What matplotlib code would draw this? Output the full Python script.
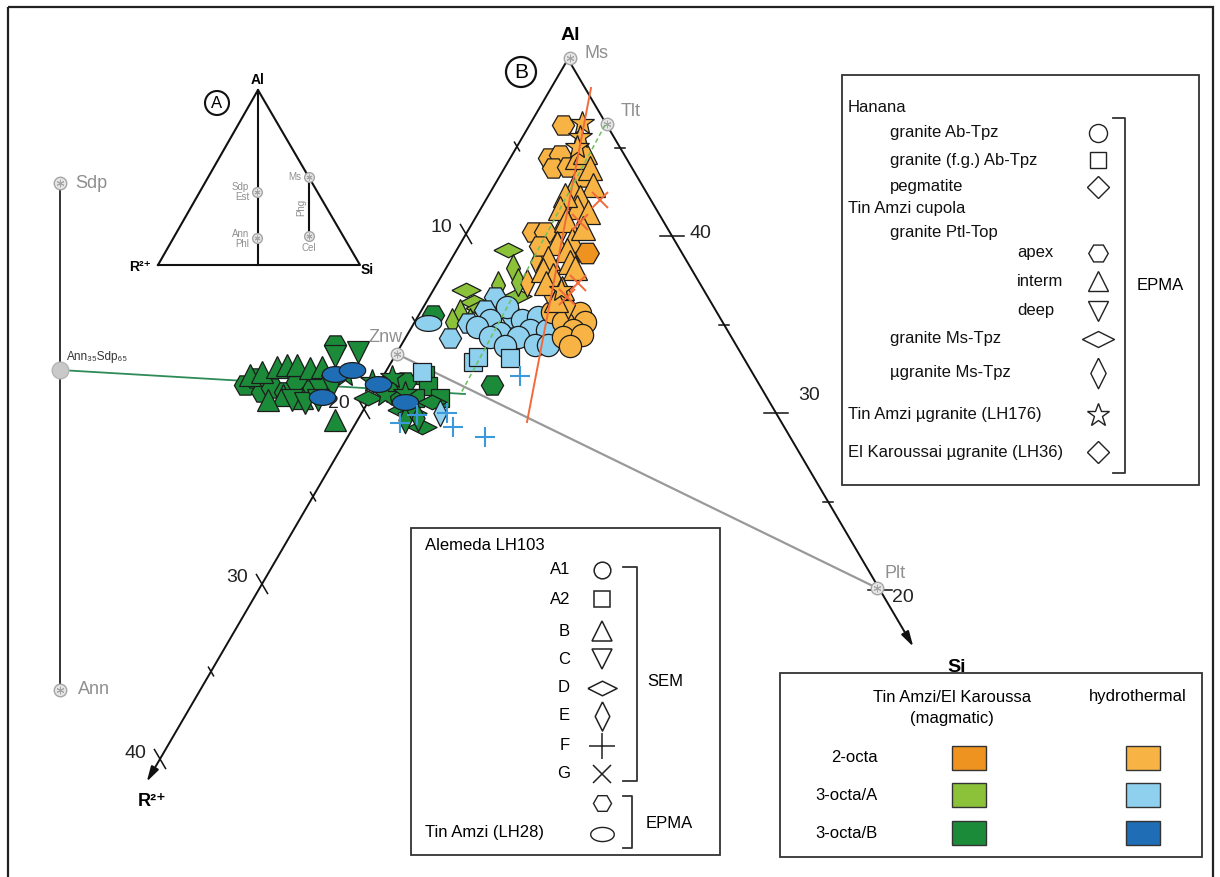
import numpy as np
import matplotlib.pyplot as plt
from matplotlib.patches import Rectangle, Circle

plt.rcParams['font.family'] = ['Liberation Sans', 'DejaVu Sans']

# mica compositions, plotted in diagram units (origin top-left of sheet)
# Tin Amzi / Hanana hydrothermal 2-octa (light orange)
lo_hex = [(563, 125), (549, 158), (560, 155), (553, 168), (568, 167), (583, 177),
          (533, 232), (545, 232), (540, 246)]
lo_star = [(582, 123), (580, 137), (577, 147), (561, 290)]
lo_tri = [(577, 157), (585, 152), (590, 168), (593, 185), (573, 188), (580, 197),
          (577, 207), (588, 212), (565, 195), (560, 208), (566, 220), (572, 240),
          (583, 228), (557, 243), (567, 250), (548, 258), (570, 262), (543, 270),
          (553, 275), (575, 268), (546, 283), (562, 288), (556, 300)]
lo_vdia = [(562, 227), (537, 262), (527, 283), (548, 290), (568, 305)]
lo_circ = [(552, 312), (580, 313), (585, 322), (563, 322), (573, 330), (563, 337),
           (582, 335), (570, 346)]
# magmatic 2-octa (orange)
mo_hex = [(587, 253)]
# Alemeda G analyses
g_cross = [(600, 200), (580, 222), (578, 283), (567, 297)]

# 3-octa/A magmatic (yellow green)
yg_hdia = [(508, 250), (466, 290), (474, 302), (517, 296), (480, 308)]
yg_vdia = [(513, 268), (518, 282), (460, 313), (452, 322), (470, 322), (498, 285)]

# 3-octa/A hydrothermal (light blue)
lb_hex = [(450, 338), (495, 297), (485, 310), (468, 323), (513, 318)]
lb_circ = [(507, 307), (490, 320), (522, 320), (538, 317), (477, 327), (500, 333),
           (530, 330), (547, 330), (490, 337), (518, 337), (505, 346), (535, 345),
           (548, 345)]
lb_ell = [(428, 323)]
lb_sq = [(473, 362), (478, 357), (510, 358), (422, 372)]
lb_plus = [(520, 376), (400, 423), (417, 415), (447, 413), (453, 427), (485, 437)]
lb_vdia = [(440, 413)]

# 3-octa/B magmatic (green)
dg_hex = [(433, 315), (492, 385), (245, 385), (255, 378), (262, 392), (272, 388),
          (285, 392), (297, 382), (312, 390), (320, 380), (335, 345), (392, 392),
          (405, 382)]
dg_tri = [(250, 375), (262, 372), (277, 367), (287, 365), (297, 365), (310, 368),
          (322, 367), (283, 395), (268, 400), (302, 398), (335, 420)]
dg_tri_dn = [(335, 356), (358, 352), (332, 386), (292, 400), (305, 403), (318, 400)]
dg_star = [(345, 375), (372, 381), (392, 377), (385, 395), (405, 393)]
dg_hdia = [(368, 398), (402, 410), (412, 413), (432, 402), (422, 427)]
dg_vdia = [(405, 420), (418, 418)]
dg_sq = [(425, 375), (428, 386), (415, 398), (440, 398)]
# 3-octa/B hydrothermal (blue)
db_ell = [(335, 374), (352, 370), (322, 397), (378, 384), (405, 402)]

# end members
em_names = ['Ms', 'Tlt', 'Znw', 'Plt']
em_xy = [(570, 58), (607, 124), (397, 354), (877, 588)]
left_ticks = [10, 20, 30, 40]
right_ticks = [40, 30, 20]

C_ORANGE = '#EE9320'
C_LORANGE = '#F7B445'
C_YGREEN = '#8CC23A'
C_LBLUE = '#8ED0EE'
C_GREEN = '#1B8B3A'
C_BLUE = '#1F6DB4'
EDGE = '#1c1c1c'
GREY = '#8f8f8f'

t = np.linspace(0, 2 * np.pi, 40)
ELLIPSE = list(zip(np.cos(t), 0.6 * np.sin(t)))
HDIA = [(-1, 0), (0, 0.5), (1, 0), (0, -0.5), (-1, 0)]
VDIA = [(0, 1), (0.5, 0), (0, -1), (-0.5, 0), (0, 1)]

fig = plt.figure(figsize=(12.2, 8.77), dpi=100)
ax = fig.add_axes([0, 0, 1, 1])
ax.set_xlim(0, 1220)
ax.set_ylim(877, 0)
ax.axis('off')


def pts(data, marker, ms, fc, z=3, ec=EDGE, mew=0.9):
    xs, ys = zip(*data)
    ax.plot(xs, ys, ls='none', marker=marker, ms=ms, mfc=fc, mec=ec, mew=mew, zorder=z)


def endmember(x, y, ms=9):
    ax.plot(x, y, marker='o', ms=ms, mfc='#e6e6e6', mec='#a5a5a5', mew=1, zorder=6)
    ax.plot(x, y, marker=(6, 2, 0), ms=ms * 0.6, mec='#a5a5a5', mew=0.7, zorder=7)


# frame
ax.add_patch(Rectangle((8, 7), 1205, 900, fill=False, lw=1.6, ec='#222'))

# ternary frame (Al apex, R2+ and Si axes)
apex = np.array([568.0, 59.0])
eL = np.array([-10.2, 17.5])
eR = np.array([10.4, 17.7])


def left_pt(v):
    return apex + v * eL


def right_pt(s):
    return apex + (50 - s) * eR


tipL = left_pt(41.3)
tipR = right_pt(16.8)
for tip in (tipL, tipR):
    ax.annotate('', xy=tip, xytext=apex,
                arrowprops=dict(arrowstyle='-|>,head_length=0.9,head_width=0.25',
                                lw=1.4, color='#111', shrinkA=0, shrinkB=0), zorder=1)

dR = eR / np.hypot(*eR)
for v in [5, 10, 15, 20, 25, 30, 35, 40]:
    p = left_pt(v)
    h = 11 if v % 10 == 0 else 5
    ax.plot([p[0] - h * dR[0], p[0] + h * dR[0]], [p[1] - h * dR[1], p[1] + h * dR[1]],
            color='#111', lw=1.1, zorder=1)
for s in [45, 40, 35, 30, 25, 20]:
    p = right_pt(s)
    h = 12 if s % 10 == 0 else 5
    ax.plot([p[0] - h, p[0] + h], [p[1], p[1]], color='#111', lw=1.1, zorder=1)

for v in left_ticks:
    p = left_pt(v)
    ax.text(p[0] - 14, p[1] - 6, str(v), fontsize=14, ha='right', va='center', color='#222')
for s in right_ticks:
    p = right_pt(s)
    dx, dy = {40: (18, -2), 30: (22, -17), 20: (12, 8)}[s]
    ax.text(p[0] + dx, p[1] + dy, str(s), fontsize=14, ha='left', va='center', color='#222')

ax.text(570, 35, 'Al', fontsize=14, fontweight='bold', ha='center', va='center')
ax.text(957, 667, 'Si', fontsize=14, fontweight='bold', ha='center', va='center')
ax.text(152, 802, 'R²⁺', fontsize=13, fontweight='bold', ha='center', va='center')
ax.add_patch(Circle((521, 72), 15, fill=False, lw=1.6, ec='#111'))
ax.text(521, 72, 'B', fontsize=15, ha='center', va='center')

# tie lines
ax.plot([60, 465], [370, 394], color='#2E8B57', lw=1.3, zorder=2)
ax.plot([em_xy[2][0], em_xy[3][0]], [em_xy[2][1], em_xy[3][1]], color='#999', lw=1.6, zorder=2)
ax.plot([591, 527], [88, 422], color='#F26A3A', lw=1.4, zorder=8)
ax.plot([605, 460], [125, 395], color='#6DBF5A', lw=1.1, ls=(0, (3, 2)), zorder=8)

# data clusters
pts(dg_hex, 'H', 16, C_GREEN)
pts(dg_tri, '^', 16, C_GREEN)
pts(dg_tri_dn, 'v', 16, C_GREEN)
pts(dg_sq, 's', 13, C_GREEN)
pts(dg_hdia, HDIA, 21, C_GREEN)
pts(dg_vdia, VDIA, 19, C_GREEN)
pts(dg_star, '*', 18, C_GREEN)
pts(db_ell, ELLIPSE, 19, C_BLUE, z=3.5)

pts(yg_hdia, HDIA, 21, C_YGREEN, z=3.6)
pts(yg_vdia, VDIA, 20, C_YGREEN, z=3.6)
pts(lb_hex, 'H', 16, C_LBLUE, z=3.7)
pts(lb_circ, 'o', 16, C_LBLUE, z=3.7)
pts(lb_ell, ELLIPSE, 19, C_LBLUE, z=3.7)
pts(lb_sq, 's', 13, C_LBLUE, z=3.7)
pts(lb_vdia, VDIA, 19, C_LBLUE, z=3.7)
pts(lb_plus, '+', 15, 'none', z=3.8, ec='#3A9ADC', mew=1.5)

pts(lo_circ, 'o', 16, C_LORANGE, z=4)
pts(lo_vdia, VDIA, 20, C_LORANGE, z=4)
pts(lo_hex, 'H', 16, C_LORANGE, z=4)
pts(lo_tri, '^', 17, C_LORANGE, z=4.1)
pts(lo_star, '*', 18, C_LORANGE, z=4.2)
pts(mo_hex, 'H', 17, C_ORANGE, z=4.2)
pts(g_cross, 'x', 12, 'none', z=8, ec='#F26A3A', mew=1.4)

# end members on the main diagram
for name, (x, y) in zip(em_names, em_xy):
    endmember(x, y)
ax.text(584, 53, 'Ms', fontsize=13, color=GREY, va='center')
ax.text(621, 112, 'Tlt', fontsize=13, color=GREY, va='center')
ax.text(385, 338, 'Znw', fontsize=13, color=GREY, ha='center', va='center')
ax.text(885, 574, 'Plt', fontsize=13, color=GREY, va='center')

# annite - siderophyllite join
ax.plot([60, 60], [183, 690], color='#333', lw=1.4, zorder=1)
endmember(60, 183)
endmember(60, 690)
ax.plot(60, 370, marker='o', ms=12, mfc='#c9c9c9', mec='#b5b5b5', zorder=6)
ax.text(75, 184, 'Sdp', fontsize=13, color=GREY, va='center')
ax.text(78, 690, 'Ann', fontsize=13, color=GREY, va='center')
ax.text(67, 357, 'Ann₃₅Sdp₆₅', fontsize=8.5, color='#333', va='center')

# inset A
ax.plot([158, 258, 360, 158], [265, 90, 265, 265], color='#111', lw=1.5)
ax.plot([258, 258], [90, 265], color='#111', lw=1.5)
ax.plot([309, 309], [177, 236], color='#111', lw=1.5)
for x, y in [(257, 192), (257, 238), (309, 177), (309, 236)]:
    endmember(x, y, ms=7)
ax.text(258, 80, 'Al', fontsize=10, fontweight='bold', ha='center', va='center')
ax.text(140, 267, 'R²⁺', fontsize=10, fontweight='bold', ha='center', va='center')
ax.text(367, 270, 'Si', fontsize=10, fontweight='bold', ha='center', va='center')
ax.add_patch(Circle((217, 103), 12, fill=False, lw=1.5, ec='#111'))
ax.text(217, 103, 'A', fontsize=12, ha='center', va='center')
ax.text(249, 192, 'Sdp\nEst', fontsize=7, color=GREY, ha='right', va='center', linespacing=0.9)
ax.text(249, 239, 'Ann\nPhl', fontsize=7, color=GREY, ha='right', va='center', linespacing=0.9)
ax.text(301, 177, 'Ms', fontsize=7, color=GREY, ha='right', va='center')
ax.text(309, 248, 'Cel', fontsize=7, color=GREY, ha='center', va='center')
ax.text(301, 207, 'Phg', fontsize=7, color=GREY, ha='center', va='center', rotation=90)

# legend: Hanana / Tin Amzi / El Karoussa
ax.add_patch(Rectangle((842, 75), 357, 410, fill=False, lw=1.3, ec='#333'))
leg1 = [('Hanana', 848, 107, None, 0),
        ('granite Ab-Tpz', 890, 133, 'o', 13),
        ('granite (f.g.) Ab-Tpz', 890, 160, 's', 12),
        ('pegmatite', 890, 187, 'D', 11),
        ('Tin Amzi cupola', 848, 208, None, 0),
        ('granite Ptl-Top', 890, 233, None, 0),
        ('apex', 1017, 253, 'H', 14),
        ('interm', 1017, 281, '^', 15),
        ('deep', 1017, 311, 'v', 15),
        ('granite Ms-Tpz', 890, 339, HDIA, 23),
        ('µgranite Ms-Tpz', 890, 373, VDIA, 22),
        ('Tin Amzi µgranite (LH176)', 848, 415, '*', 17),
        ('El Karoussai µgranite (LH36)', 848, 452, 'D', 11)]
for label, x, y, mk, ms in leg1:
    ax.text(x, y, label, fontsize=12, va='center', color='#111')
    if mk is not None:
        ax.plot(1098, y, marker=mk, ms=ms, mfc='white', mec='#222', mew=1)
ax.plot([1113, 1125, 1125, 1113], [118, 118, 473, 473], color='#333', lw=1.3)
ax.text(1137, 285, 'EPMA', fontsize=12, va='center')

# legend: Alemeda / Tin Amzi LH28
ax.add_patch(Rectangle((411, 528), 309, 327, fill=False, lw=1.3, ec='#333'))
ax.text(425, 545, 'Alemeda LH103', fontsize=12, va='center')
leg2 = [('A1', 570, 'o', 12), ('A2', 599, 's', 11), ('B', 631, '^', 14),
        ('C', 659, 'v', 14), ('D', 688, HDIA, 21), ('E', 716, VDIA, 21),
        ('F', 746, '+', 19), ('G', 774, 'x', 13)]
for label, y, mk, ms in leg2:
    ax.text(570, y, label, fontsize=12, ha='right', va='center')
    ax.plot(602, y, marker=mk, ms=ms, mfc='white', mec='#222', mew=1.1)
ax.plot(602, 803, marker='H', ms=13, mfc='white', mec='#222', mew=1)
ax.plot(602, 834, marker=ELLIPSE, ms=17, mfc='white', mec='#222', mew=1)
ax.text(425, 833, 'Tin Amzi (LH28)', fontsize=12, va='center')
ax.plot([623, 637, 637, 623], [567, 567, 781, 781], color='#333', lw=1.3)
ax.text(647, 681, 'SEM', fontsize=12, va='center')
ax.plot([623, 632, 632, 623], [796, 796, 848, 848], color='#333', lw=1.3)
ax.text(646, 823, 'EPMA', fontsize=12, va='center')

# legend: colour code
ax.add_patch(Rectangle((780, 673), 422, 184, fill=False, lw=1.3, ec='#333'))
ax.text(952, 697, 'Tin Amzi/El Karoussa', fontsize=12, ha='center', va='center')
ax.text(952, 718, '(magmatic)', fontsize=12, ha='center', va='center')
ax.text(1138, 697, 'hydrothermal', fontsize=12, ha='center', va='center')
rows = ['2-octa', '3-octa/A', '3-octa/B']
mag_cols = [C_ORANGE, C_YGREEN, C_GREEN]
hyd_cols = [C_LORANGE, C_LBLUE, C_BLUE]
for name, y, cm, ch in zip(rows, [758, 795, 833], mag_cols, hyd_cols):
    ax.text(878, y, name, fontsize=12, ha='right', va='center')
    ax.add_patch(Rectangle((952, y - 12), 34, 24, fc=cm, ec='#333', lw=1))
    ax.add_patch(Rectangle((1126, y - 12), 34, 24, fc=ch, ec='#333', lw=1))

fig.savefig('out.png', dpi=100)
